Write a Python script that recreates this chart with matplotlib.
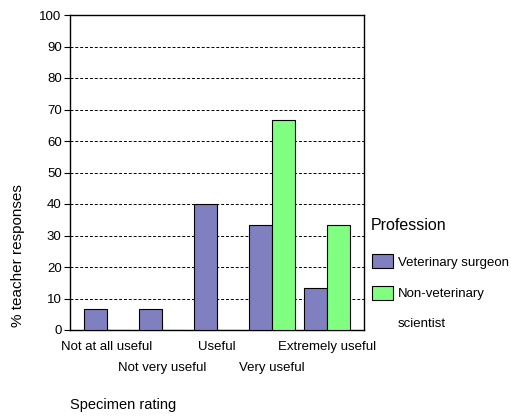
import numpy as np
import matplotlib
matplotlib.use("Agg")
from matplotlib import pyplot as plt
from matplotlib.patches import Rectangle

plt.rcParams['font.family'] = ['Liberation Sans', 'DejaVu Sans']

categories = ["Not at all useful", "Not very useful", "Useful", "Very useful", "Extremely useful"]
vet_surgeon = [6.67, 6.67, 40.0, 33.33, 13.33]
non_vet = [0.0, 0.0, 0.0, 66.67, 33.33]
series_names = ["Veterinary surgeon", "Non-veterinary", "scientist"]
purple = "#8080c0"
green = "#80ff80"

W, H = 511, 416
fig = plt.figure(figsize=(W / 100, H / 100), dpi=100)
# plot area in pixels: x 70..364, y 15..330
ax = fig.add_axes([70 / W, 1 - 330 / H, (364 - 70) / W, (330 - 15) / H])

x = np.arange(len(categories))
bw = 0.42
ax.bar(x - bw / 2, vet_surgeon, bw, color=purple, edgecolor="black", linewidth=0.8, zorder=3)
ax.bar(x + bw / 2, non_vet, bw, color=green, edgecolor="black", linewidth=0.8, zorder=3)

ax.set_xlim(-0.67, 4.67)
ax.set_ylim(0, 100)
ax.set_yticks(np.arange(0, 101, 10))
ax.tick_params(axis='y', labelsize=9.5, length=4, width=0.8, pad=2)
for v in range(10, 100, 10):
    ax.axhline(v, color="black", linestyle=(0, (3, 2)), linewidth=0.7, zorder=1)

# staggered category labels
ax.set_xticks(x)
ax.set_xticklabels([])
ax.tick_params(axis='x', length=4, width=0.8, direction='in')
for i, lab in enumerate(categories):
    yoff = -0.055 if i % 2 == 0 else -0.12
    ax.text(i, yoff, lab, transform=ax.get_xaxis_transform(), ha="center", va="center",
            fontsize=9.5)

for s in ax.spines.values():
    s.set_linewidth(1.0)

fig.text(18 / W, 1 - 256 / H, "% teacher responses", rotation=90, ha="center", va="center",
         fontsize=11)
fig.text(70 / W, 1 - 405 / H, "Specimen rating", ha="left", va="center", fontsize=10.5)

# legend
fig.text(371 / W, 1 - 225 / H, "Profession", ha="left", va="center", fontsize=11.5)
for py, col in [(261, purple), (293, green)]:
    fig.patches.append(Rectangle((372 / W, 1 - (py + 7) / H), 21 / W, 14 / H, facecolor=col,
                                 edgecolor="black", linewidth=0.8, transform=fig.transFigure))
fig.text(398 / W, 1 - 263 / H, series_names[0], ha="left", va="center", fontsize=9.5)
fig.text(398 / W, 1 - 294 / H, series_names[1], ha="left", va="center", fontsize=9.5)
fig.text(398 / W, 1 - 324 / H, series_names[2], ha="left", va="center", fontsize=9.5)

fig.savefig("out.png", dpi=100)
